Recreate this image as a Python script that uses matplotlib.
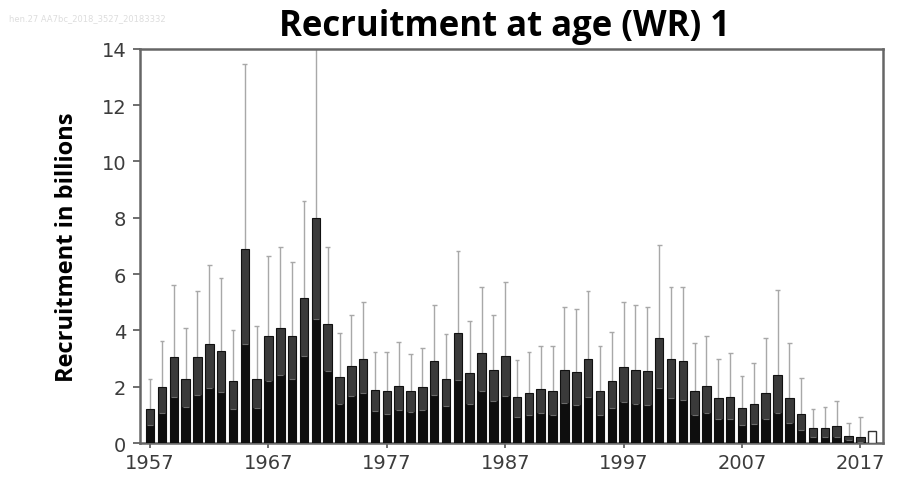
import matplotlib.pyplot as plt
import numpy as np

# recruitment estimates (billions)
years = list(range(1957, 2019))
recruits = [1.21, 1.98, 3.05, 2.27, 3.05, 3.52, 3.26, 2.21, 6.89, 2.27,
            3.81, 4.09, 3.81, 5.14, 7.98, 4.23, 2.33, 2.75, 2.98, 1.90,
            1.83, 2.04, 1.86, 1.98, 2.90, 2.27, 3.90, 2.47, 3.19, 2.61,
            3.10, 1.65, 1.78, 1.92, 1.86, 2.61, 2.53, 2.98, 1.86, 2.21,
            2.69, 2.61, 2.55, 3.73, 2.98, 2.90, 1.86, 2.01, 1.59, 1.65,
            1.23, 1.39, 1.78, 2.42, 1.59, 1.03, 0.52, 0.52, 0.59, 0.26,
            0.20, 0.44]
upper = [2.27, 3.64, 5.63, 4.07, 5.41, 6.33, 5.85, 4.02, 13.47, 4.17,
         6.63, 6.98, 6.42, 8.59, 14.5, 6.98, 3.90, 4.53, 5.00, 3.22,
         3.22, 3.58, 3.16, 3.38, 4.92, 3.87, 6.83, 4.35, 5.53, 4.56,
         5.71, 2.96, 3.22, 3.46, 3.46, 4.84, 4.76, 5.41, 3.46, 3.93,
         5.00, 4.92, 4.84, 7.05, 5.53, 5.53, 3.54, 3.81, 2.98, 3.20,
         2.39, 2.83, 3.73, 5.44, 3.54, 2.31, 1.21, 1.27, 1.50, 0.71,
         0.91, None]
lower = [0.64, 1.08, 1.65, 1.27, 1.72, 1.96, 1.82, 1.21, 3.52, 1.24,
         2.19, 2.40, 2.26, 3.08, 4.40, 2.56, 1.39, 1.67, 1.78, 1.12,
         1.04, 1.16, 1.09, 1.16, 1.71, 1.33, 2.23, 1.40, 1.84, 1.49,
         1.68, 0.92, 0.98, 1.07, 1.00, 1.41, 1.34, 1.64, 1.00, 1.24,
         1.45, 1.38, 1.34, 1.97, 1.61, 1.52, 0.98, 1.06, 0.85, 0.85,
         0.63, 0.68, 0.85, 1.08, 0.71, 0.46, 0.22, 0.21, 0.23, 0.10,
         0.04, None]
xticks = [1957, 1967, 1977, 1987, 1997, 2007, 2017]
yticks = [0, 2, 4, 6, 8, 10, 12, 14]

fig = plt.figure(figsize=(9.07, 4.89), dpi=100)
ax = fig.add_axes([0.1544, 0.092, 0.819, 0.806])

w = 0.72
for yr, r, up, lo in zip(years, recruits, upper, lower):
    if up is None:
        # last year: open bar, no interval
        ax.bar(yr, r, width=w, color='white', edgecolor='#333333', linewidth=1.0, zorder=3)
        continue
    ax.vlines(yr, r, up, color='#a8a8a8', linewidth=1.0, zorder=2)
    if up < 14:
        ax.hlines(up, yr - 0.2, yr + 0.2, color='#a8a8a8', linewidth=1.0, zorder=2)
    ax.bar(yr, r, width=w, color='#3a3a3a', edgecolor='#111111', linewidth=0.8, zorder=3)
    ax.bar(yr, lo, width=w, color='#0e0e0e', edgecolor='#0e0e0e', linewidth=0.5, zorder=4)
    ax.hlines(lo, yr - 0.25, yr + 0.25, color='#6a6a6a', linewidth=0.8, zorder=5)

ax.set_xlim(1956.15, 2018.9)
ax.set_ylim(0, 14)
ax.set_xticks(xticks)
ax.set_yticks(yticks)
ax.tick_params(axis='both', labelsize=14, labelcolor='#3c3c3c', color='#555555',
               length=5, width=1.2)
ax.tick_params(axis='x', direction='inout', length=7, pad=4)
ax.tick_params(axis='y', pad=5)
for s in ax.spines.values():
    s.set_color('#666666')
    s.set_linewidth(1.8)

ax.set_ylabel('Recruitment in billions', fontsize=17, fontweight='bold',
              family='Open Sans', labelpad=16)
fig.text(0.556, 0.944, 'Recruitment at age (WR) 1', ha='center', va='center',
         fontsize=25, fontweight='bold', family='Open Sans')
fig.text(0.01, 0.962, 'hen.27 AA7bc_2018_3527_20183332', fontsize=6,
         color='#dddddd', va='center')

fig.savefig('out.png', dpi=100)
